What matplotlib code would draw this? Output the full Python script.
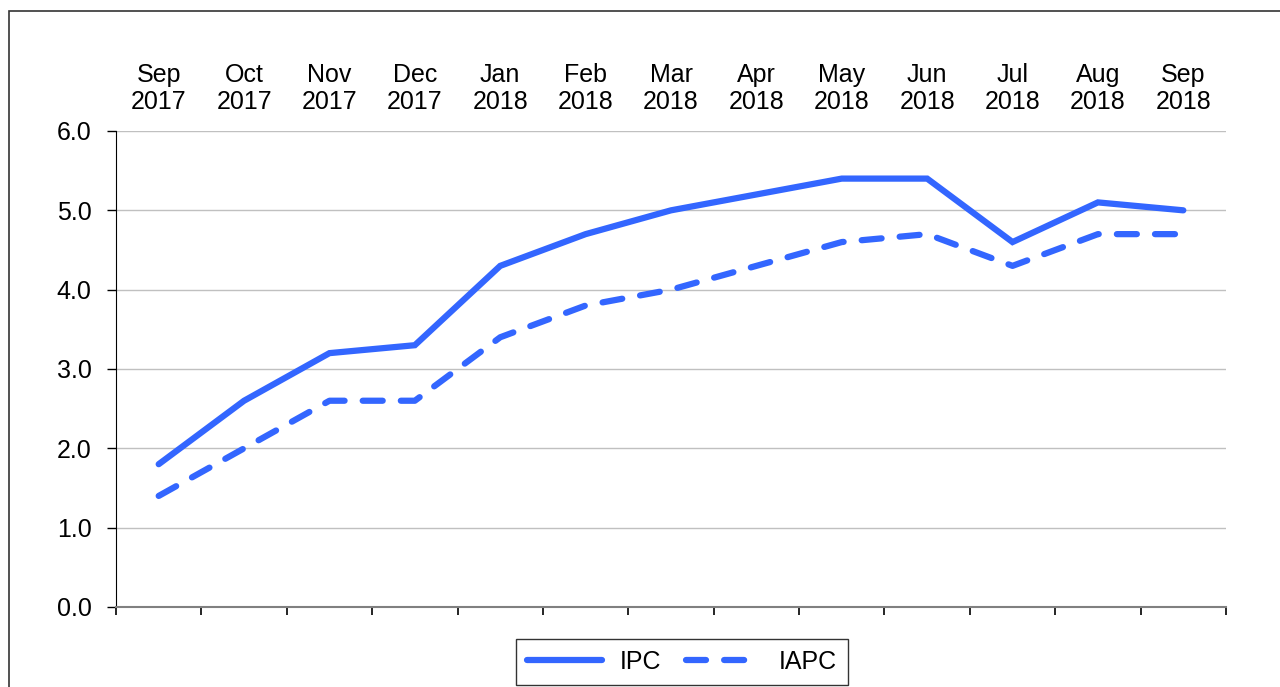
import matplotlib
matplotlib.use("Agg")
import matplotlib.pyplot as plt
from matplotlib.patches import Rectangle

plt.rcParams['font.family'] = ['Liberation Sans', 'DejaVu Sans']

months = ["Sep\n2017", "Oct\n2017", "Nov\n2017", "Dec\n2017", "Jan\n2018", "Feb\n2018",
          "Mar\n2018", "Apr\n2018", "May\n2018", "Jun\n2018", "Jul\n2018", "Aug\n2018", "Sep\n2018"]
ipc = [1.8, 2.6, 3.2, 3.3, 4.3, 4.7, 5.0, 5.2, 5.4, 5.4, 4.6, 5.1, 5.0]
iapc = [1.4, 2.0, 2.6, 2.6, 3.4, 3.8, 4.0, 4.3, 4.6, 4.7, 4.3, 4.7, 4.7]
yticks = [0, 1, 2, 3, 4, 5, 6]

W, H = 1280, 687
fig = plt.figure(figsize=(12.8, 6.87), dpi=100)
ax = fig.add_axes([116 / W, 1 - 607 / H, (1226 - 116) / W, (607 - 131) / H])

color = '#3366FF'
x = list(range(len(months)))
ax.plot(x, ipc, color=color, lw=4.5, solid_capstyle='round', solid_joinstyle='miter', label='IPC', zorder=3)
ax.plot(x, iapc, color=color, lw=4.5, dashes=(3.2, 2.9), dash_capstyle='round', label='IAPC', zorder=3)

ax.set_xlim(-0.5, len(months) - 0.5)
ax.set_ylim(0, 6)
ax.set_yticks(yticks)
ax.set_yticklabels([f"{v:.1f}" for v in yticks])
ax.yaxis.grid(True, color='#c0c0c0', lw=1)
ax.set_axisbelow(True)

ax.set_xticks(x)
ax.set_xticklabels(months, linespacing=1.15)
ax.set_xticks([i - 0.5 for i in range(len(months) + 1)], minor=True)
ax.tick_params(axis='x', which='major', top=True, labeltop=True, bottom=False, labelbottom=False,
               length=0, pad=12, labelsize=18)
ax.tick_params(axis='x', which='minor', bottom=True, top=False, direction='out', length=6, width=1.2, color='black')
ax.tick_params(axis='y', direction='out', length=6.5, width=1, pad=11, labelsize=18, color='black')

for s in ['top', 'right']:
    ax.spines[s].set_visible(False)
ax.spines['left'].set_color('black')
ax.spines['bottom'].set_color('#808080')
ax.spines['bottom'].set_linewidth(1.5)

leg = ax.legend(loc='center', bbox_to_anchor=((514 + 850) / 2 / W, 1 - 662 / H),
                bbox_transform=fig.transFigure, ncol=2, frameon=True, fancybox=False,
                edgecolor='black', fontsize=18, handlelength=3.0, columnspacing=1.0,
                handletextpad=0.7, borderpad=0.45, borderaxespad=0)
leg.get_frame().set_linewidth(1.0)

fig.patches.append(Rectangle((9 / W, -0.1), 1.2, 1 - 11 / H + 0.1, transform=fig.transFigure,
                             fill=False, edgecolor='#333333', lw=1.2))

fig.savefig('out.png', dpi=100)
